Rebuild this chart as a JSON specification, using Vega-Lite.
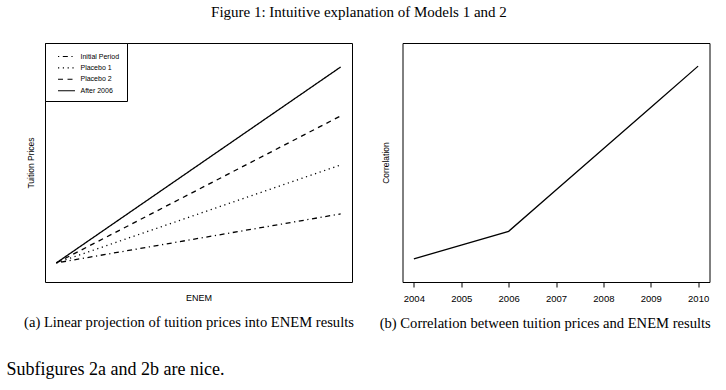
{
  "$schema": "https://vega.github.io/schema/vega-lite/v6.json",
  "background": "white",
  "padding": {"left": 6, "top": 4, "right": 5, "bottom": 5},
  "title": {
    "text": "Figure 1: Intuitive explanation of Models 1 and 2",
    "font": "Liberation Serif",
    "fontSize": 15,
    "fontWeight": "normal",
    "color": "black",
    "anchor": "middle",
    "offset": 23
  },
  "vconcat": [
    {
      "title": {
        "text": "Subfigures 2a and 2b are nice.",
        "orient": "bottom",
        "anchor": "start",
        "frame": "bounds",
        "font": "Liberation Serif",
        "fontSize": 18,
        "fontWeight": "normal",
        "color": "black",
        "offset": 30,
        "dx": -17
      },
      "spacing": 23.5,
      "hconcat": [
        {
          "width": 307,
          "height": 239,
          "title": {
            "text": "(a) Linear projection of tuition prices into ENEM results",
            "orient": "bottom",
            "anchor": "middle",
            "frame": "bounds",
            "font": "Liberation Serif",
            "fontSize": 14.6,
            "fontWeight": "normal",
            "color": "black",
            "offset": 13
          },
          "data": {
            "values": [
              {"series": "Initial Period", "enem": 0, "price": 0},
              {"series": "Initial Period", "enem": 1, "price": 1},
              {"series": "Placebo 1", "enem": 0, "price": 0},
              {"series": "Placebo 1", "enem": 1, "price": 2},
              {"series": "Placebo 2", "enem": 0, "price": 0},
              {"series": "Placebo 2", "enem": 1, "price": 3},
              {"series": "After 2006", "enem": 0, "price": 0},
              {"series": "After 2006", "enem": 1, "price": 4}
            ]
          },
          "mark": {"type": "line", "color": "black", "strokeWidth": 1.3},
          "encoding": {
            "x": {
              "field": "enem",
              "type": "quantitative",
              "scale": {"domain": [-0.04, 1.04], "nice": false, "zero": false},
              "axis": {"title": "ENEM", "ticks": false, "labels": false, "titlePadding": 11, "titleFontSize": 9}
            },
            "y": {
              "field": "price",
              "type": "quantitative",
              "scale": {"domain": [-0.39, 4.49], "nice": false, "zero": false},
              "axis": {"title": "Tuition Prices", "ticks": false, "labels": false, "titlePadding": 10, "titleFontSize": 8.5}
            },
            "strokeDash": {
              "field": "series",
              "type": "nominal",
              "scale": {
                "domain": ["Initial Period", "Placebo 1", "Placebo 2", "After 2006"],
                "range": [[1.2, 3.6, 5, 3.6], [1.2, 3.6], [5, 4.5], [1, 0]]
              },
              "legend": {
                "title": null,
                "orient": "top-left",
                "offset": 0,
                "symbolType": "M-1.45,0H1.45",
                "symbolSize": 137,
                "symbolStrokeWidth": 1.1,
                "symbolStrokeColor": "black",
                "symbolOffset": 8,
                "labelFont": "Liberation Sans",
                "labelFontSize": 7,
                "labelColor": "black",
                "labelOffset": 7.5,
                "rowPadding": 1.4,
                "padding": 7,
                "strokeColor": "black",
                "fillColor": "white"
              }
            }
          }
        },
        {
          "width": 307,
          "height": 239,
          "title": {
            "text": "(b) Correlation between tuition prices and ENEM results",
            "orient": "bottom",
            "anchor": "middle",
            "frame": "bounds",
            "font": "Liberation Serif",
            "fontSize": 14.6,
            "fontWeight": "normal",
            "color": "black",
            "offset": 13
          },
          "data": {
            "values": [
              {"year": 2004, "corr": 1},
              {"year": 2005, "corr": 1.5},
              {"year": 2006, "corr": 2},
              {"year": 2007, "corr": 3.5},
              {"year": 2008, "corr": 5},
              {"year": 2009, "corr": 6.5},
              {"year": 2010, "corr": 8}
            ]
          },
          "mark": {"type": "line", "color": "black", "strokeWidth": 1.3},
          "encoding": {
            "x": {
              "field": "year",
              "type": "quantitative",
              "scale": {"domain": [2003.76, 2010.24], "nice": false, "zero": false},
              "axis": {"title": null, "values": [2004, 2005, 2006, 2007, 2008, 2009, 2010], "format": "d", "tickSize": 5, "labelPadding": 6, "labelFontSize": 9.5, "labelFlush": false}
            },
            "y": {
              "field": "corr",
              "type": "quantitative",
              "scale": {"domain": [0.16, 8.84], "nice": false, "zero": false},
              "axis": {"title": "Correlation", "ticks": false, "labels": false, "titlePadding": 12.5, "titleFontSize": 8.5}
            }
          }
        }
      ]
    }
  ],
  "config": {
    "view": {"stroke": "black", "strokeWidth": 1},
    "axis": {
      "grid": false,
      "domain": false,
      "labelFont": "Liberation Sans",
      "titleFont": "Liberation Sans",
      "titleFontWeight": "normal",
      "labelColor": "black",
      "titleColor": "black",
      "tickColor": "black"
    }
  }
}
